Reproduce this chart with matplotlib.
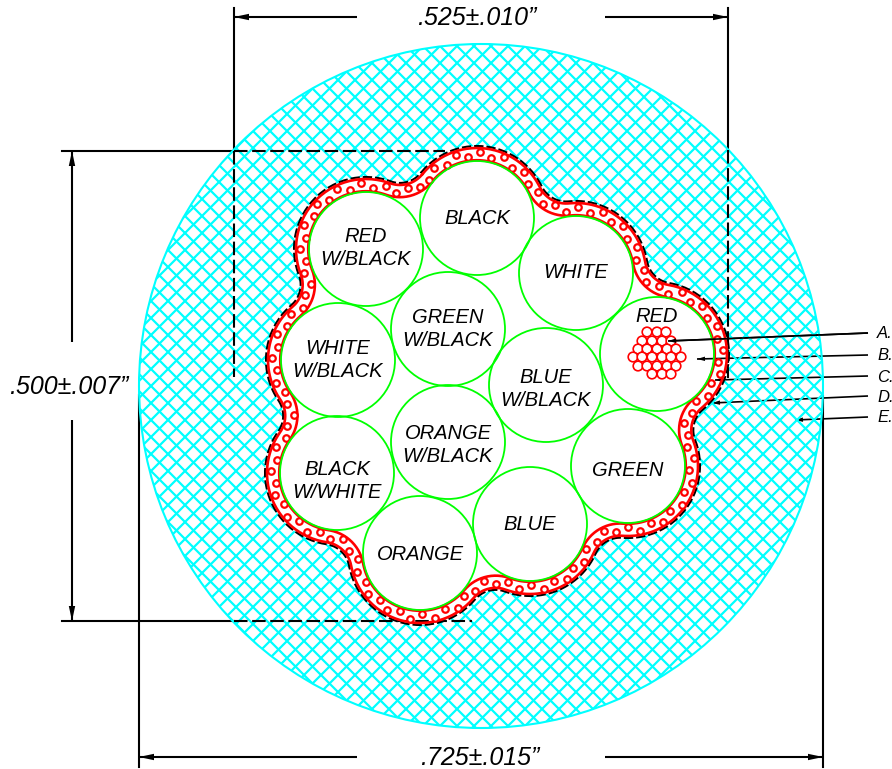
import numpy as np
import matplotlib
matplotlib.use("Agg")
import matplotlib.pyplot as plt
from matplotlib.collections import LineCollection
from matplotlib.patches import Circle, PathPatch
from matplotlib.path import Path

# everything in pixels, y going down
wire_names = ["BLACK", "WHITE", "RED", "GREEN", "BLUE", "ORANGE", "BLACK\nW/WHITE",
              "WHITE\nW/BLACK", "RED\nW/BLACK", "GREEN\nW/BLACK", "BLUE\nW/BLACK", "ORANGE\nW/BLACK"]
wire_x = [477, 576, 657, 628, 530, 420, 337, 338, 366, 448, 546, 448]
wire_y = [218, 273, 354, 466, 524, 553, 473, 360, 249, 329, 385, 442]
label_y = [219, 273, 317, 471, 525, 555, 481, 360, 248, 329, 389, 445]
wire_r = 57
n_outer = 9

cable_x, cable_y, cable_r = 481, 386, 342

strand_rows_y = [332, 341, 349, 357, 366, 374]
strand_rows_x = [[647, 657, 666], [642, 652, 662, 671], [638, 647, 657, 667, 676],
                 [633, 642, 652, 662, 671, 681], [638, 647, 657, 667, 676], [652, 662, 671]]

leader_names = ["A.", "B.", "C.", "D.", "E."]
leader_tip_x = [668, 697, 715, 712, 795]
leader_tip_y = [341, 359, 380, 403, 420]
leader_end_y = [333, 355, 376, 396, 417]
leader_end_x = 868

FONT = "Liberation Sans"


def contour(d, rf=42):
    cx = np.array(wire_x[:n_outer], float)
    cy = np.array(wire_y[:n_outer], float)
    fx, fy = [], []
    for i in range(n_outer):
        j = (i + 1) % n_outer
        mx, my = (cx[i] + cx[j]) / 2, (cy[i] + cy[j]) / 2
        half = np.hypot(cx[j] - cx[i], cy[j] - cy[i]) / 2
        h = np.sqrt((wire_r + rf) ** 2 - half ** 2)
        nx, ny = -(cy[j] - cy[i]) / (2 * half), (cx[j] - cx[i]) / (2 * half)
        if nx * (mx - cable_x) + ny * (my - cable_y) < 0:
            nx, ny = -nx, -ny
        fx.append(mx + nx * h)
        fy.append(my + ny * h)
    xs, ys = [], []
    for i in range(n_outer):
        p = i - 1
        j = (i + 1) % n_outer
        # round the wire
        a0 = np.arctan2(fy[p] - cy[i], fx[p] - cx[i])
        a1 = np.arctan2(fy[i] - cy[i], fx[i] - cx[i])
        if a1 < a0:
            a1 += 2 * np.pi
        t = np.linspace(a0, a1, 60)
        xs.extend(cx[i] + (wire_r + d) * np.cos(t))
        ys.extend(cy[i] + (wire_r + d) * np.sin(t))
        # fillet to the next wire
        a0 = np.arctan2(cy[i] - fy[i], cx[i] - fx[i])
        a1 = np.arctan2(cy[j] - fy[i], cx[j] - fx[i])
        if a1 > a0:
            a1 -= 2 * np.pi
        t = np.linspace(a0, a1, 30)
        xs.extend(fx[i] + (rf - d) * np.cos(t))
        ys.extend(fy[i] + (rf - d) * np.sin(t))
    return np.array(xs), np.array(ys)


def dim_line(x0, y0, x1, y1, lw=1.5, hl=15, hw=3.2, z=3):
    # head sits at x1,y1, sizes in pixels
    ax.plot([x0, x1], [y0, y1], color="black", lw=lw, zorder=z, solid_capstyle="butt")
    ux, uy = x0 - x1, y0 - y1
    ul = np.hypot(ux, uy)
    ux, uy = ux / ul, uy / ul
    ax.fill([x1, x1 + ux * hl - uy * hw, x1 + ux * hl + uy * hw],
            [y1, y1 + uy * hl + ux * hw, y1 + uy * hl - ux * hw],
            color="black", lw=0, zorder=z)


fig = plt.figure(figsize=(8.92, 7.69), dpi=100)
ax = fig.add_axes([0, 0, 1, 1])
ax.set_xlim(0, 892)
ax.set_ylim(769, 0)
ax.axis("off")

# extension lines, solid outside the cable and dashed inside it
dash = (0, (6.5, 2.2))
ax.plot([234, 234], [8, 151], color="black", lw=1.5, zorder=2)
ax.plot([234, 234], [151, 377], color="black", lw=1.5, ls=dash, zorder=4.5)
ax.plot([728, 728], [8, 150], color="black", lw=1.5, zorder=2)
ax.plot([728, 728], [150, 378], color="black", lw=1.5, ls=dash, zorder=4.5)
ax.plot([139, 139], [395, 767], color="black", lw=1.5, zorder=2)
ax.plot([823, 823], [396, 767], color="black", lw=1.5, zorder=2)
ax.plot([62, 234], [151, 151], color="black", lw=1.5, zorder=2)
ax.plot([234, 445], [151, 151], color="black", lw=1.5, ls=dash, zorder=4.5)
ax.plot([62, 234], [621, 621], color="black", lw=1.5, zorder=2)
ax.plot([234, 472], [621, 621], color="black", lw=1.5, ls=dash, zorder=4.5)

# dimension arrows
dim_line(357, 17, 234, 17)
dim_line(605, 17, 728, 17)
dim_line(357, 757, 139, 757)
dim_line(605, 757, 823, 757)
dim_line(72, 342, 72, 151)
dim_line(72, 420, 72, 621)

# black outline of the outer shield
bx, by = contour(15)
ax.plot(np.r_[bx, bx[0]], np.r_[by, by[0]], color="black", lw=1.5, ls=(0, (4.5, 1.4)), zorder=4.5)

# leaders go under the hatch
for tx, ty, ey, name in zip(leader_tip_x, leader_tip_y, leader_end_y, leader_names):
    dim_line(leader_end_x, ey, tx, ty, lw=1.2, hl=8, hw=2.2)
    ax.text(877, ey + 1, name, fontsize=12, style="italic", family=FONT,
            ha="left", va="center", color="black", zorder=6)

# cyan crosshatch, clipped between the cable edge and the shield
t = np.linspace(0, 2 * np.pi, 400)
outer_x = cable_x + cable_r * np.cos(t)
outer_y = cable_y + cable_r * np.sin(t)
verts = np.r_[np.c_[outer_x, outer_y], np.c_[bx, by][::-1], [[bx[0], by[0]]]]
codes = [Path.MOVETO] + [Path.LINETO] * (len(outer_x) - 1) + [Path.MOVETO] + [Path.LINETO] * (len(bx) - 1) + [Path.CLOSEPOLY]
clip = PathPatch(Path(verts, codes), facecolor="none", edgecolor="none", transform=ax.transData)
ax.add_patch(clip)
pitch = 17
segs = []
for k in range(-150, 150):
    c0 = 411 + k * pitch
    c1 = 537 + k * pitch
    segs.append([(c0, 0), (c0 + 1000, 1000)])
    segs.append([(c1, 0), (c1 - 1000, 1000)])
hatch = LineCollection(segs, colors="#00ffff", linewidths=1.6, zorder=4)
ax.add_collection(hatch)
hatch.set_clip_path(clip)
ax.add_patch(Circle((cable_x, cable_y), cable_r, facecolor="none", edgecolor="#00ffff", lw=1.5, zorder=4))

# red jacket band
ox, oy = contour(13)
ix, iy = contour(0.8)
ax.plot(np.r_[ox, ox[0]], np.r_[oy, oy[0]], color="#ff0000", lw=1.9, zorder=5)
ax.plot(np.r_[ix, ix[0]], np.r_[iy, iy[0]], color="#ff0000", lw=1.9, zorder=5)

# rings in the band, staggered
mx, my = contour(6.9)
seg = np.hypot(np.diff(mx), np.diff(my))
s = np.r_[0, np.cumsum(seg)]
pos = np.arange(0, s[-1], 12)
rx = np.interp(pos, s, mx)
ry = np.interp(pos, s, my)
tx = np.gradient(rx)
ty = np.gradient(ry)
tl = np.hypot(tx, ty)
off = np.where(np.arange(len(pos)) % 2 == 0, 2.4, -2.4)
rx = rx - ty / tl * off
ry = ry + tx / tl * off
ax.scatter(rx, ry, s=22, facecolor="white", edgecolor="#ff0000", linewidth=1.6, zorder=5)

# wires
for x, y, y2, name in zip(wire_x, wire_y, label_y, wire_names):
    ax.add_patch(Circle((x, y), wire_r, facecolor="none", edgecolor="#00ff00", lw=1.3, zorder=5.2))
    ax.text(x, y2, name, fontsize=14.5, style="italic", family=FONT, ha="center",
            va="center", linespacing=1.32, color="black", zorder=6)

# strands of the red wire
for y, xs in zip(strand_rows_y, strand_rows_x):
    for x in xs:
        ax.add_patch(Circle((x, y), 4.8, facecolor="white", edgecolor="#ff0000", lw=1.2, zorder=5.5))

# leader A and its head show on top of the strands
dim_line(leader_end_x, leader_end_y[0], leader_tip_x[0], leader_tip_y[0], lw=1.2, hl=8, hw=2.2, z=5.7)

ax.text(477, 18, '.525±.010”', fontsize=18, style="italic", family=FONT, ha="center", va="center")
ax.text(480, 758, '.725±.015”', fontsize=18, style="italic", family=FONT, ha="center", va="center")
ax.text(69, 387, '.500±.007”', fontsize=18, style="italic", family=FONT, ha="center", va="center")

fig.savefig("out.png", dpi=100)
